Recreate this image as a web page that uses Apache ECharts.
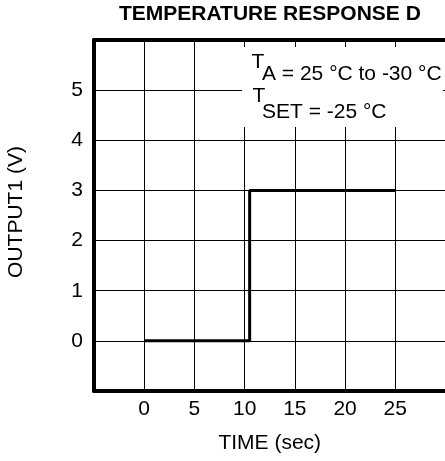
<!DOCTYPE html>
<html><head><meta charset="utf-8">
<script src="https://cdn.jsdelivr.net/npm/echarts@6/dist/echarts.min.js"></script>
<style>html,body{margin:0;padding:0;background:#fff}#c{width:445px;height:461px}</style>
</head><body><div id="c"></div>
<script>
var timeValues = [0, 10.5, 10.5, 25];
var outputValues = [0, 0, 3, 3];
var xTickLabels = ['0', '5', '10', '15', '20', '25'];
var yTickLabels = ['0', '1', '2', '3', '4', '5'];
var titleText = 'TEMPERATURE RESPONSE D';
var xName = 'TIME (sec)';
var yName = 'OUTPUT1 (V)';

var FONT = 'Liberation Sans, Arial, sans-serif';
var FS = 21;
var chart = echarts.init(document.getElementById('c'), null, {renderer: 'canvas'});
var lineData = timeValues.map(function (t, i) { return [t, outputValues[i]]; });

chart.setOption({
  animation: false,
  backgroundColor: '#fff',
  title: {
    text: titleText, left: 119, top: 4, padding: 0,
    textStyle: {fontFamily: FONT, fontWeight: 'bold', fontSize: FS, color: '#000'}
  },
  grid: {left: 94, width: 351.5, top: 40, height: 351, containLabel: false, outerBoundsMode: 'none'},
  xAxis: [{
    type: 'value', min: -5, max: 30, interval: 5, position: 'bottom',
    name: xName, nameLocation: 'middle', nameGap: 42,
    nameTextStyle: {fontFamily: FONT, fontSize: FS, color: '#000'},
    axisLine: {show: true, onZero: false, lineStyle: {color: '#000', width: 4}},
    axisTick: {show: false},
    axisLabel: {
      fontFamily: FONT, fontSize: FS, color: '#000', margin: 8,
      formatter: function (v) { var s = String(v); return xTickLabels.indexOf(s) >= 0 ? s : ''; }
    },
    splitLine: {show: true, lineStyle: {color: '#000', width: 1}}
  }, {
    type: 'value', min: -5, max: 30, interval: 5, position: 'top',
    axisLine: {show: true, onZero: false, lineStyle: {color: '#000', width: 4}},
    axisTick: {show: false}, axisLabel: {show: false}, splitLine: {show: false}
  }],
  yAxis: [{
    type: 'value', min: -1, max: 6, interval: 1,
    name: yName, nameLocation: 'middle', nameGap: 67,
    nameTextStyle: {fontFamily: FONT, fontSize: FS, color: '#000', padding: [0, 0, 0, 7]},
    axisLine: {show: true, onZero: false, lineStyle: {color: '#000', width: 4}},
    axisTick: {show: false},
    axisLabel: {
      fontFamily: FONT, fontSize: FS, color: '#000', margin: 11,
      formatter: function (v) { var s = String(v); return yTickLabels.indexOf(s) >= 0 ? s : ''; }
    },
    splitLine: {show: true, lineStyle: {color: '#000', width: 1}}
  }],
  series: [{
    type: 'line', xAxisIndex: 0, yAxisIndex: 0, data: lineData,
    showSymbol: false, symbol: 'none',
    lineStyle: {color: '#000', width: 3}, z: 3
  }],
  graphic: [
    {type: 'rect', z: 100, shape: {x: 242, y: 47, width: 201, height: 80}, style: {fill: '#fff'}},
    {type: 'text', z: 101, style: {x: 251.5, y: 62, text: 'T', font: FS + 'px ' + FONT, fill: '#000', verticalAlign: 'middle'}},
    {type: 'text', z: 101, style: {x: 262, y: 74, text: 'A = 25 °C to -30 °C', font: FS + 'px ' + FONT, fill: '#000', verticalAlign: 'middle'}},
    {type: 'text', z: 101, style: {x: 252.5, y: 96, text: 'T', font: FS + 'px ' + FONT, fill: '#000', verticalAlign: 'middle'}},
    {type: 'text', z: 101, style: {x: 262, y: 112.5, text: 'SET = -25 °C', font: FS + 'px ' + FONT, fill: '#000', verticalAlign: 'middle'}}
  ]
});
</script></body></html>
